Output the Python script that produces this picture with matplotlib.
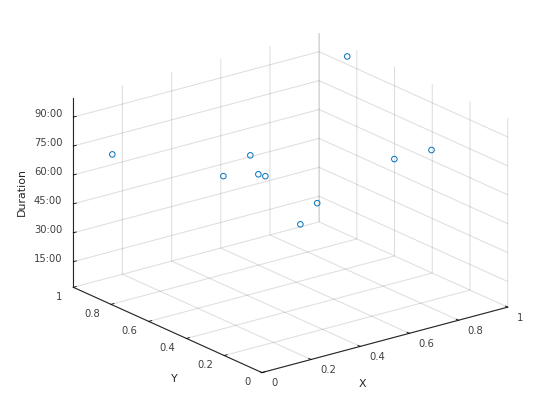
from matplotlib import pyplot as plt
from mpl_toolkits.mplot3d import proj3d

# values, Duration in minutes
x_vals = [0.082, 0.227, 0.49, 0.446, 0.321, 0.961, 0.769, 0.805, 0.647, 0.732]
y_vals = [0.9, 0.5, 0.7, 0.6, 0.4, 0.8, 0.3, 0.15, 0.55, 0.75]
duration = [72.3, 73.8, 66.8, 62.9, 75.0, 97.7, 73.1, 83.2, 43.3, 20.6]

xy_ticks = [0, 0.2, 0.4, 0.6, 0.8, 1]
xy_labels = ['0', '0.2', '0.4', '0.6', '0.8', '1']
z_ticks = [15, 30, 45, 60, 75, 90]
z_labels = ['15:00', '30:00', '45:00', '60:00', '75:00', '90:00']
z_lim = (1.7, 99.7)

plt.rcParams['font.family'] = 'DejaVu Sans'
plt.rcParams['grid.color'] = (0.15, 0.15, 0.15, 0.15)
plt.rcParams['grid.linewidth'] = 0.75

fig = plt.figure(figsize=(5.6, 4.2), dpi=100)
ax = fig.add_axes([0.1, 0.1, 0.8, 0.8], projection='3d')
ax.set_proj_type('ortho')
ax.view_init(elev=20.3, azim=-127.5)

ax.scatter(x_vals, y_vals, duration, s=16, marker='o', facecolors='none',
           edgecolors='#0072BD', linewidths=0.7, depthshade=False, clip_on=False)

ax.set_xlim(0, 1, view_margin=0)
ax.set_ylim(0, 1, view_margin=0)
ax.set_zlim(z_lim[0], z_lim[1], view_margin=0)
ax.set_xticks(xy_ticks, [''] * 6)
ax.set_yticks(xy_ticks, [''] * 6)
ax.set_zticks(z_ticks, [''] * 6)

for axis in (ax.xaxis, ax.yaxis, ax.zaxis):
    axis.set_pane_color((1, 1, 1, 0))
    axis.pane.set_edgecolor((1, 1, 1, 0))
    axis.line.set_color('#262626')
    axis.line.set_linewidth(0.8)
    axis._axinfo['tick']['inward_factor'] = 0
    axis._axinfo['tick']['outward_factor'] = 0.15
    axis._axinfo['tick']['linewidth'] = {True: 0.6, False: 0.5}
    axis._axinfo['tick']['color'] = '#262626'


def corner_px(x, y, z):
    px, py, _ = proj3d.proj_transform(x, y, z, ax.get_proj())
    return ax.transData.transform((px, py))


# fit the box onto the corners measured in the picture (pixels from bottom left)
target_left = (73.3, 420 - 287.3)
target_right = (507.7, 420 - 307.7)
ax.set_box_aspect((1, 1, 0.65), zoom=1)
fig.canvas.draw()
span = corner_px(1, 0, z_lim[0])[0] - corner_px(0, 1, z_lim[0])[0]
ax.set_box_aspect((1, 1, 0.65), zoom=(target_right[0] - target_left[0]) / span)
fig.canvas.draw()
left = corner_px(0, 1, z_lim[0])
pos = ax.get_position()
ax.set_position([pos.x0 + (target_left[0] - left[0]) / 560,
                 pos.y0 + (target_left[1] - left[1]) / 420,
                 pos.width, pos.height])
fig.canvas.draw()


def put_text(px, py, s, ha, size=7.2, color='#404040', rotation=0):
    # px, py are pixels from bottom left
    fig.text(px / 560, py / 420, s, ha=ha, va='center', fontsize=size,
             color=color, rotation=rotation)


# mplot3d cant place tick labels like the reference, so set them by hand at the ticks
for t, s in zip(xy_ticks, xy_labels):
    p = corner_px(t, 0, z_lim[0])
    put_text(p[0] + 9, p[1] - 10.6, s, 'left')
    p = corner_px(0, t, z_lim[0])
    put_text(p[0] - 11, p[1] - 9.3, s, 'right')
for t, s in zip(z_ticks, z_labels):
    p = corner_px(0, 1, t)
    put_text(p[0] - 11, p[1] + 2.7, s, 'right')

put_text(362.7, 420 - 384, 'X', 'center', size=7.9, color='#262626')
put_text(174, 420 - 379.3, 'Y', 'center', size=7.9, color='#262626')
put_text(21.7, 420 - 192.3, 'Duration', 'center', size=7.9, color='#262626', rotation=90)

fig.savefig('out.png', dpi=100)
